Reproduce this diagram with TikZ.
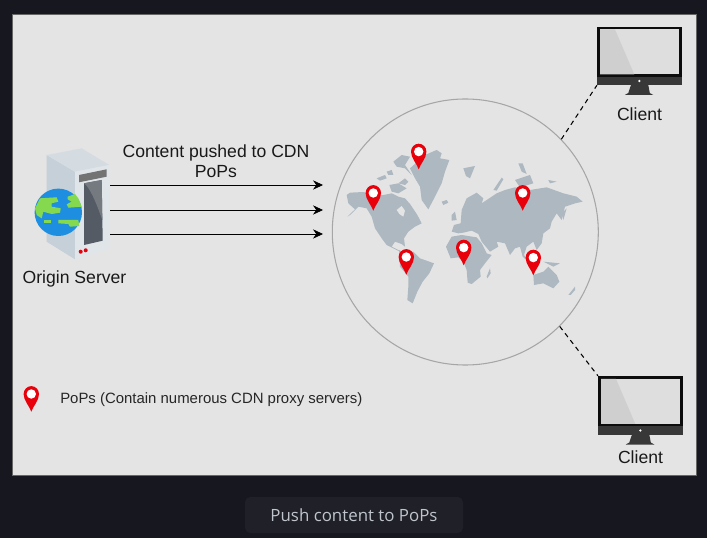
\documentclass[tikz,border=0pt]{standalone}
\usepackage{fontspec}
\usetikzlibrary{arrows.meta}
\setmainfont{Liberation Sans}
\newfontfamily\capfont{Open Sans}
\definecolor{pagedark}{HTML}{16171F}
\definecolor{btndark}{HTML}{1F2028}
\definecolor{captext}{HTML}{C0C4CC}
\definecolor{panelgray}{HTML}{E4E4E4}
\definecolor{mapgray}{HTML}{ADB8C1}
\definecolor{pinred}{HTML}{E8000B}
\definecolor{serverside}{HTML}{C6D0D8}
\definecolor{servertop}{HTML}{D5DCE1}
\definecolor{serverfront}{HTML}{E0E5EA}
\definecolor{doordark}{HTML}{555B65}
\definecolor{doorlight}{HTML}{757A80}
\definecolor{earthblue}{HTML}{1E8FE0}
\definecolor{earthgreen}{HTML}{84D94F}
\tikzset{
  map pin/.pic={
    \fill[pinred] (0,0) .. controls (-2,-6) and (-7.7,-11) .. (-7.7,-17.7)
      .. controls (-7.7,-22) and (-4.2,-25.6) .. (0,-25.6)
      .. controls (4.2,-25.6) and (7.7,-22) .. (7.7,-17.7)
      .. controls (7.7,-11) and (2,-6) .. (0,0) -- cycle;
    \fill[white] (0,-17.7) circle (4.7);
  },
  screen/.pic={
    \fill[black!78] (0,0) rectangle (84.5,58.3);
    \fill[black!95] (0,0) rectangle (84.5,50);
    \fill[black!13] (2.7,2.7) rectangle (81.8,47.7);
    \fill[black!19] (2.7,2.7) -- (17.7,2.7) -- (37,47.7) -- (2.7,47.7) -- cycle;
    \fill[white] (42,54.3) circle (1.3);
    \fill[black!78] (33.7,58.3) -- (51,58.3) -- (52.5,66.3) -- (56,68.3) -- (27.5,68.3) -- (31,66.3) -- cycle;
  }
}
\begin{document}
\begin{tikzpicture}[x=0.75pt,y=-0.75pt,
  label text/.style={font=\fontsize{13.2}{15}\selectfont,text=black!90,inner sep=0pt},
  monitor/.style={rectangle,minimum width=63.4pt,minimum height=43.7pt,inner sep=0pt},
  push arrow/.style={-{Stealth[length=7.5pt,width=7pt]},semithick},
  link/.style={dash pattern=on 3.5pt off 3pt,line width=0.8pt}
]
\useasboundingbox (0,0) rectangle (707,538);
\fill[pagedark] (0,0) rectangle (707,538);
\draw[fill=panelgray,draw=black!60] (12.5,14.5) rectangle (696,475.5);

% origin server
\fill[serverside] (46.7,155) -- (75,171.7) -- (75,259.3) -- (46.7,241.7) -- cycle;
\fill[servertop] (46.7,155) -- (81.7,148.3) -- (109.3,165) -- (75,171.7) -- cycle;
\fill[serverfront] (75,171.7) -- (109.3,165) -- (110,248.3) -- (75,259.3) -- cycle;
\fill[black!55] (79,175) -- (106.7,169.3) -- (106.7,176.7) -- (79,182.3) -- cycle;
\fill[doordark] (84,183.3) -- (101.7,180) -- (102.7,240.7) -- (84,245) -- cycle;
\fill[doorlight] (84,183.3) -- (101.7,180) -- (102.3,220) .. controls (97,205) and (92,192) .. (86,185) -- cycle;
\fill[pinred] (80.7,251.7) circle (2) (85.7,250.3) circle (2);
\fill[earthblue] (58.3,212.3) circle (23.7);
\fill[earthgreen] (35,208.3) -- (40,198.3) -- (56.7,197.3) -- (58.3,201.7) -- (51.7,203.3) -- (51.7,206.7) -- (60.7,208.3)
  -- (60,212.7) -- (51.7,214) -- (43.3,211.7) -- (41.7,218.3) -- (36.7,215) -- cycle;
\fill[earthgreen] (67.7,196.7) -- (75,194) -- (78.3,198.3) -- (81.7,206.7) -- (68.3,207.7) -- (66.7,204.3) -- (71.7,201.7) -- (67.7,199.3) -- cycle;
\fill[earthgreen] (44,220) rectangle (50.7,223.3);
\fill[earthgreen] (58.3,220) -- (78.3,220) -- (79.3,226) -- (70,226.7) -- (68.3,224) -- (58.3,223.3) -- cycle;
\node[label text] (origin) at (74.5,279) {Origin Server};

% arrows
\coordinate (arrowa) at (110,185);
\coordinate (arrowb) at (110,210);
\coordinate (arrowc) at (110,234);
\coordinate (heada) at (323,185);
\coordinate (headb) at (323,210);
\coordinate (headc) at (323,234);
\draw[push arrow] (arrowa) -- (heada);
\draw[push arrow] (arrowb) -- (headb);
\draw[push arrow] (arrowc) -- (headc);
\node[label text,align=center] (pushed) at (216,161) {Content pushed to CDN\\PoPs};

% world map
\node[circle,draw=black!35,line width=0.8pt,minimum size=199.5pt,inner sep=0pt] (globe) at (465.3,232) {};
\begin{scope}[shift={(330,100)},x=0.25pt,y=-0.25pt]
  \fill[mapgray] (50,285) -- (60,278) -- (100,276) -- (130,286) -- (160,285) -- (185,280) -- (205,290)
    -- (225,295) -- (240,312) -- (262,345) -- (275,370)
    -- (255,380) -- (235,395) -- (222,415) -- (225,440) -- (215,432) -- (195,425) -- (185,440) -- (205,450)
    -- (215,458) -- (200,450) -- (170,435) -- (155,415) -- (135,385) -- (125,350) -- (110,325) -- (85,320)
    -- (60,345) -- (52,350) -- (75,328) -- (55,310) -- cycle;
  \fill[panelgray] (200,330) -- (215,318) -- (225,332) -- (220,350) -- (208,342) -- cycle;
  \fill[mapgray] (240,205) -- (285,165) -- (320,150) -- (335,160) -- (330,175) -- (358,180) -- (345,215)
    -- (335,250) -- (315,290) -- (295,328) -- (275,300) -- (270,260) -- (255,235) -- cycle;
  \fill[mapgray] (190,185) -- (215,165) -- (240,170) -- (225,195) -- (245,225) -- (225,205) -- (200,200) -- cycle;
  \fill[mapgray] (140,235) -- (165,225) -- (170,235) -- (150,242) -- cycle;
  \fill[mapgray] (170,215) -- (185,210) -- (190,225) -- (175,225) -- cycle;
  \fill[mapgray] (178,255) -- (205,250) -- (230,265) -- (205,280) -- (185,275) -- cycle;
  \fill[mapgray] (205,250) -- (225,235) -- (235,245) -- (225,255) -- cycle;
  \fill[mapgray] (207,450) -- (225,460) -- (250,455) -- (270,475) -- (312,490) -- (298,520) -- (278,545)
    -- (262,575) -- (248,610) -- (232,600) -- (235,560) -- (235,530) -- (210,500) -- cycle;
  \fill[mapgray] (348,440) -- (365,410) -- (395,405) -- (440,412) -- (455,430) -- (470,460) -- (485,465)
    -- (465,490) -- (450,510) -- (452,530) -- (425,552) -- (413,548) -- (410,510) -- (400,485) -- (385,472) -- (362,475) -- cycle;
  \fill[mapgray] (365,395) -- (372,375) -- (392,370) -- (395,330) -- (410,295) -- (440,278) -- (460,295)
    -- (455,310) -- (470,300) -- (500,280) -- (525,270) -- (555,262) -- (600,270) -- (650,262) -- (700,280) -- (740,290)
    -- (758,305) -- (735,310) -- (705,320) -- (695,360) -- (680,340) -- (665,365) -- (660,385) -- (640,400) -- (635,430)
    -- (620,450) -- (610,425) -- (590,440) -- (582,465) -- (600,490) -- (578,470) -- (570,440) -- (555,445) -- (540,465) -- (525,430) -- (500,425)
    -- (505,440) -- (480,455) -- (455,425) -- (445,402) -- (425,392) -- (400,398) -- (385,400) -- cycle;
  \fill[mapgray] (470,530) -- (480,505) -- (482,520) -- (472,535) -- cycle;
  \fill[mapgray] (610,525) -- (640,515) -- (655,500) -- (680,525) -- (688,545) -- (670,565) -- (640,550) -- (612,555) -- cycle;
  \fill[mapgray] (715,585) -- (735,560) -- (735,570) -- (722,585) -- cycle;
  \fill[mapgray] (400,205) -- (435,198) -- (420,235) -- (408,228) -- cycle;
  \fill[mapgray] (335,305) -- (350,300) -- (355,308) -- (340,315) -- cycle;
  \fill[mapgray] (365,345) -- (375,335) -- (380,360) -- (365,362) -- cycle;
  \fill[mapgray] (590,480) -- (620,470) -- (625,480) -- (600,490) -- cycle;
  \fill[mapgray] (640,485) -- (690,490) -- (670,500) -- cycle;
  \fill[mapgray] (490,270) -- (515,233) -- (520,238) -- (500,272) -- cycle;
  \fill[mapgray] (565,190) -- (578,190) -- (590,222) -- (575,215) -- cycle;
  \fill[mapgray] (555,240) -- (600,225) -- (610,250) -- (570,262) -- cycle;
  \fill[mapgray] (655,240) -- (680,245) -- (660,250) -- cycle;
  \fill[mapgray] (695,340) -- (710,325) -- (700,360) -- cycle;
\end{scope}
\pic at (418.7,169.3) {map pin};
\pic at (373.3,210.7) {map pin};
\pic at (406.3,274.7) {map pin};
\pic at (463.7,265.3) {map pin};
\pic at (522.7,210.7) {map pin};
\pic at (533.3,275.3) {map pin};

% clients
\node[monitor] (clienta) at (639.5,55.8) {};
\pic at (597.3,26.7) {screen};
\node[label text] (labela) at (639.5,114) {Client};
\node[monitor] (clientb) at (640.5,405.3) {};
\pic at (598.3,376.2) {screen};
\node[label text] (labelb) at (640.5,457) {Client};
\draw[link] (globe.44) -- (clienta.south west);
\draw[link] (globe.-45) -- (clientb.north west);

% legend
\pic at (31.3,411.7) {map pin};
\node[font=\fontsize{11.2}{13}\selectfont,text=black!85,inner sep=0pt,anchor=west] (legend) at (60,400) {PoPs (Contain numerous CDN proxy servers)};

% caption
\node[fill=btndark,rounded corners=4pt,minimum width=163.5pt,minimum height=27pt,inner sep=0pt,text=captext,font=\capfont\fontsize{12.65}{15}\selectfont] (caption) at (354,515) {Push content to PoPs};
\end{tikzpicture}
\end{document}
